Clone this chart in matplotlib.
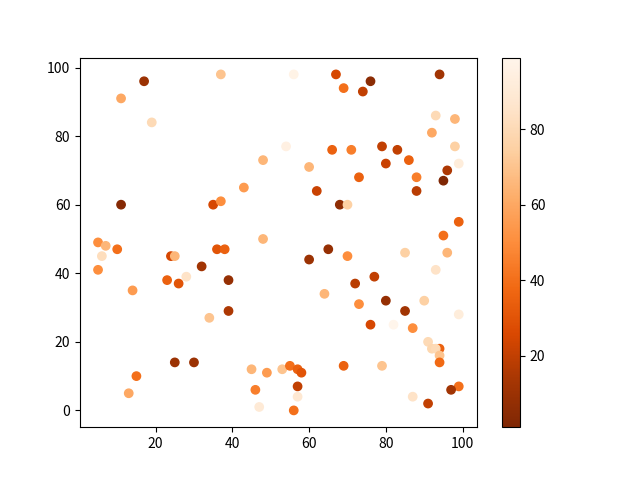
import numpy as np
import matplotlib
matplotlib.use("Agg")
import matplotlib.pyplot as plt

plt.rcParams['font.family'] = ['Noto Sans CJK SC', 'DejaVu Sans']

# positions
x = [37, 17, 11, 19, 56, 67, 69, 54, 66, 71,
     48, 60, 43, 76, 74, 94, 93, 98, 92, 98,
     99, 79, 83, 86, 80, 73, 88, 96, 95, 11,
     35, 37, 5, 7, 6, 10, 5, 14, 24, 25,
     32, 28, 23, 26, 36, 38, 62, 68, 70, 48,
     65, 60, 70, 39, 64, 88, 99, 95, 85, 96,
     93, 77, 72, 73, 80, 90, 34, 25, 30, 15,
     13, 39, 45, 49, 53, 55, 57, 58, 57, 57,
     46, 47, 56, 69, 85, 99, 76, 82, 87, 91,
     94, 92, 93, 94, 94, 79, 99, 97, 87, 91]
y = [98, 96, 91, 84, 98, 98, 94, 77, 76, 76,
     73, 71, 65, 96, 93, 98, 86, 85, 81, 77,
     72, 77, 76, 73, 72, 68, 68, 70, 67, 60,
     60, 61, 49, 48, 45, 47, 41, 35, 45, 45,
     42, 39, 38, 37, 47, 47, 64, 60, 60, 50,
     47, 44, 45, 38, 34, 64, 55, 51, 46, 46,
     41, 39, 37, 31, 32, 32, 27, 14, 14, 10,
     5, 29, 12, 11, 12, 13, 12, 11, 7, 4,
     6, 1, 0, 13, 29, 28, 25, 25, 24, 20,
     18, 18, 18, 16, 14, 13, 7, 6, 4, 2]
# couleurs (valeurs de la colorbar)
couleurs = [70, 10, 60, 80, 97, 25, 40, 95, 35, 45,
            65, 65, 55, 5, 20, 12, 80, 65, 60, 75,
            92, 20, 20, 35, 22, 35, 45, 15, 1, 3,
            25, 50, 50, 65, 82, 40, 50, 55, 25, 65,
            12, 85, 35, 30, 30, 35, 22, 6, 75, 65,
            8, 10, 50, 8, 65, 18, 35, 40, 75, 65,
            85, 20, 18, 50, 8, 75, 70, 10, 10, 40,
            60, 15, 65, 55, 70, 40, 35, 30, 20, 88,
            45, 90, 40, 35, 12, 92, 25, 99, 50, 80,
            35, 78, 80, 70, 38, 70, 40, 12, 85, 20]

plt.scatter(x, y, c=couleurs, cmap='Oranges_r')
plt.colorbar()
plt.savefig("out.png")
